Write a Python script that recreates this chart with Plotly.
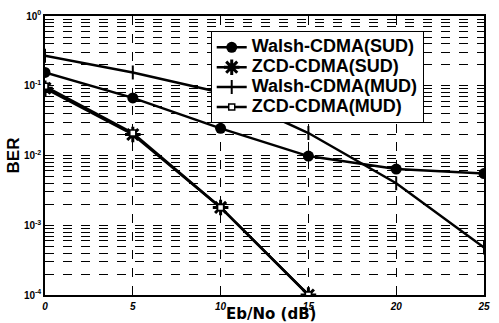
import plotly.graph_objects as go

ebno = [0, 5, 10, 15, 20, 25]
walsh_sud = [0.155, 0.067, 0.0245, 0.0098, 0.0064, 0.0055]
walsh_mud = [0.27, 0.155, 0.08, 0.021, 0.004, 0.00048]
zcd_x = [0, 5, 10, 15]
zcd_sud = [0.092, 0.020, 0.0018, 0.0001]
zcd_mud = [0.098, 0.021, 0.0018, 0.0001]

names = ["Walsh-CDMA(SUD)", "ZCD-CDMA(SUD)", "Walsh-CDMA(MUD)", "ZCD-CDMA(MUD)"]
xtick_vals = [0, 5, 10, 15, 20, 25]
ytick_vals = [1e-4, 1e-3, 1e-2, 1e-1, 1]
ytick_text = ["10<sup>-4</sup>", "10<sup>-3</sup>", "10<sup>-2</sup>", "10<sup>-1</sup>", "10<sup>0</sup>"]


def big(s):
    return "<span style='font-size:18px'>" + s + "</span>"


fig = go.Figure()
fig.add_trace(go.Scatter(x=ebno, y=walsh_sud, name=big(names[0]), mode="lines+markers",
                         line=dict(color="black", width=2.5),
                         marker=dict(symbol="circle", size=11, color="black")))
fig.add_trace(go.Scatter(x=zcd_x, y=zcd_sud, name=big(names[1]), mode="lines+markers",
                         line=dict(color="black", width=2.5),
                         marker=dict(symbol="asterisk", size=13, color="black",
                                     line=dict(color="black", width=3))))
fig.add_trace(go.Scatter(x=ebno, y=walsh_mud, name=big(names[2]), mode="lines+markers",
                         line=dict(color="black", width=2.5),
                         marker=dict(symbol="line-ns", size=10, color="black",
                                     line=dict(color="black", width=2))))
fig.add_trace(go.Scatter(x=zcd_x, y=zcd_mud, name=big(names[3]), mode="lines+markers",
                         line=dict(color="black", width=2.5),
                         marker=dict(symbol="square", size=6, color="white",
                                     line=dict(color="black", width=1.5))))

fig.update_layout(
    width=499, height=323,
    margin=dict(l=45, r=9, t=15, b=28),
    paper_bgcolor="white", plot_bgcolor="white",
    font=dict(family="Liberation Sans, Arial", color="black"),
    legend=dict(x=0.3775, y=0.945, xanchor="left", yanchor="top",
                bgcolor="white", bordercolor="black", borderwidth=1,
                font=dict(size=13, family="Liberation Sans, Arial", weight="bold"),
                tracegroupgap=0, itemwidth=30),
    showlegend=True,
    annotations=[dict(text="Eb/No (dB)", xref="paper", yref="paper", x=0.515, y=-0.03,
                      xanchor="center", yanchor="top", showarrow=False,
                      font=dict(size=15, family="DejaVu Sans", weight="bold"))],
)
fig.update_xaxes(range=[0, 25], tickvals=xtick_vals,
                 tickfont=dict(size=10, weight="bold", style="italic"),
                 showline=True, linecolor="black", linewidth=1.5, mirror=True,
                 showgrid=True, gridcolor="black", griddash="dash", gridwidth=1,
                 ticks="", zeroline=False, ticklabelstandoff=1)
fig.update_yaxes(type="log", range=[-4, 0], tickvals=ytick_vals, ticktext=ytick_text,
                 tickfont=dict(size=10, weight="bold"),
                 showline=True, linecolor="black", linewidth=1.5, mirror=True,
                 showgrid=True, gridcolor="black", griddash="dash", gridwidth=1,
                 minor=dict(dtick="D1", showgrid=True, gridcolor="black", griddash="dash", gridwidth=1, ticks=""),
                 ticks="", zeroline=False,
                 title=dict(text="BER", font=dict(size=17, weight="bold"), standoff=0))

fig.write_html("out.html", config={"displayModeBar": False},
               post_script="document.body.style.margin='0';document.body.style.overflow='hidden';")
